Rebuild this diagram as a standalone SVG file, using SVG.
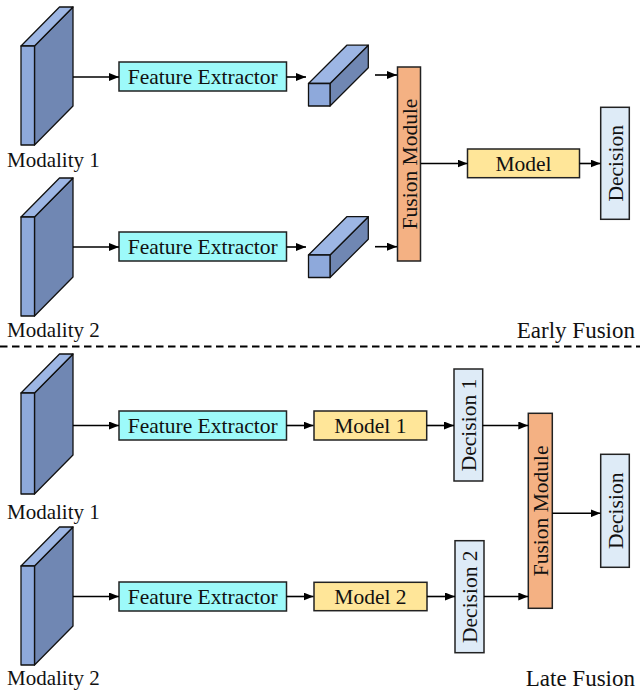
<svg xmlns="http://www.w3.org/2000/svg" width="640" height="693" viewBox="0 0 640 693" font-family="'Liberation Serif', 'Times New Roman', 'DejaVu Serif', serif">
<defs>
<marker id="ah" markerUnits="userSpaceOnUse" markerWidth="10" markerHeight="8" refX="10" refY="4" orient="auto">
<path d="M0,0 L10,4 L0,8 z" fill="#000"/>
</marker>
</defs>
<style>
text{font-family:'Liberation Serif','Times New Roman','DejaVu Serif',serif;fill:#111;}
.lbl{font-size:21.5px;text-anchor:middle;}
.mod{font-size:21px;}
.sec{font-size:23px;text-anchor:end;}
.box{stroke:#222;stroke-width:1.5;}
.fe{fill:#9DFAFA;}
.fus{fill:#F4B183;}
.mdl{fill:#FFE699;}
.dec{fill:#DEEBF7;}
.front{fill:#8EA9DB;stroke:#111;stroke-width:1.3;stroke-linejoin:round;}
.top{fill:#9DB6E4;stroke:#111;stroke-width:1.3;stroke-linejoin:round;}
.side{fill:#7087B3;stroke:#111;stroke-width:1.3;stroke-linejoin:round;}
.con{stroke:#000;stroke-width:1.6;fill:none;marker-end:url(#ah);}
</style>
<rect width="640" height="693" fill="#fff"/>

<!-- Early fusion -->
<g id="early-modality1">
<polygon class="side" points="34.5,46 73,7 73,106 34.5,145"/>
<polygon class="top" points="21,46 34.5,46 73,7 59.5,7"/>
<rect class="front" x="21" y="46" width="13.5" height="99"/>
<text class="mod" x="7" y="167" font-family="Liberation Serif">Modality 1</text>
</g>
<g id="early-modality2">
<polygon class="side" points="34.5,217 73,178 73,277 34.5,316"/>
<polygon class="top" points="21,217 34.5,217 73,178 59.5,178"/>
<rect class="front" x="21" y="217" width="13.5" height="99"/>
<text class="mod" x="7" y="337" font-family="Liberation Serif">Modality 2</text>
</g>
<g id="early-fe1">
<rect class="box fe" x="119" y="62" width="167.5" height="29"/>
<text class="lbl" x="202.7" y="83.5" font-family="Liberation Serif">Feature Extractor</text>
</g>
<g id="early-fe2">
<rect class="box fe" x="119" y="232" width="167.5" height="29"/>
<text class="lbl" x="202.7" y="253.5" font-family="Liberation Serif">Feature Extractor</text>
</g>
<g id="early-feat1">
<polygon class="side" points="330,83.5 368.3,45.2 368.3,67.7 330,106"/>
<polygon class="top" points="308.5,83.5 330,83.5 368.3,45.2 346.8,45.2"/>
<rect class="front" x="308.5" y="83.5" width="21.5" height="22.5"/>
</g>
<g id="early-feat2">
<polygon class="side" points="330,255 368.3,216.7 368.3,239.2 330,277.5"/>
<polygon class="top" points="308.5,255 330,255 368.3,216.7 346.8,216.7"/>
<rect class="front" x="308.5" y="255" width="21.5" height="22.5"/>
</g>
<g id="early-fusion">
<rect class="box fus" x="397.5" y="67" width="23" height="194"/>
<text class="lbl" transform="translate(409,164) rotate(-90)" x="0" y="7.5" font-family="Liberation Serif">Fusion Module</text>
</g>
<g id="early-model">
<rect class="box mdl" x="467.5" y="149" width="112" height="28.7"/>
<text class="lbl" x="523.5" y="170.5" font-family="Liberation Serif">Model</text>
</g>
<g id="early-decision">
<rect class="box dec" x="600.7" y="107.3" width="28.6" height="112"/>
<text class="lbl" transform="translate(615,163.3) rotate(-90)" x="0" y="7.5" font-family="Liberation Serif">Decision</text>
</g>
<text class="sec" x="635" y="337.5" font-family="Liberation Serif">Early Fusion</text>

<line x1="0" y1="346.5" x2="640" y2="346.5" stroke="#000" stroke-width="2" stroke-dasharray="7.5 4.5"/>

<!-- Late fusion -->
<g id="late-modality1">
<polygon class="side" points="34.5,393 73,354 73,455 34.5,494"/>
<polygon class="top" points="21,393 34.5,393 73,354 59.5,354"/>
<rect class="front" x="21" y="393" width="13.5" height="101"/>
<text class="mod" x="7" y="518.5" font-family="Liberation Serif">Modality 1</text>
</g>
<g id="late-modality2">
<polygon class="side" points="34.5,566 73,527 73,626 34.5,665"/>
<polygon class="top" points="21,566 34.5,566 73,527 59.5,527"/>
<rect class="front" x="21" y="566" width="13.5" height="99"/>
<text class="mod" x="7" y="684.5" font-family="Liberation Serif">Modality 2</text>
</g>
<g id="late-fe1">
<rect class="box fe" x="119" y="411" width="167.5" height="29"/>
<text class="lbl" x="202.7" y="432.5" font-family="Liberation Serif">Feature Extractor</text>
</g>
<g id="late-fe2">
<rect class="box fe" x="119" y="582" width="167.5" height="29"/>
<text class="lbl" x="202.7" y="603.5" font-family="Liberation Serif">Feature Extractor</text>
</g>
<g id="late-model1">
<rect class="box mdl" x="314" y="411" width="112.7" height="29"/>
<text class="lbl" x="370.3" y="432.5" font-family="Liberation Serif">Model 1</text>
</g>
<g id="late-model2">
<rect class="box mdl" x="314" y="582.3" width="113" height="28.4"/>
<text class="lbl" x="370.5" y="603.5" font-family="Liberation Serif">Model 2</text>
</g>
<g id="late-decision1">
<rect class="box dec" x="454" y="369" width="28.7" height="112"/>
<text class="lbl" transform="translate(468.3,425) rotate(-90)" x="0" y="7.5" font-family="Liberation Serif">Decision 1</text>
</g>
<g id="late-decision2">
<rect class="box dec" x="455" y="540.7" width="29" height="112"/>
<text class="lbl" transform="translate(469.5,596.7) rotate(-90)" x="0" y="7.5" font-family="Liberation Serif">Decision 2</text>
</g>
<g id="late-fusion">
<rect class="box fus" x="528.3" y="413.3" width="24" height="195"/>
<text class="lbl" transform="translate(540.3,510.8) rotate(-90)" x="0" y="7.5" font-family="Liberation Serif">Fusion Module</text>
</g>
<g id="late-decision">
<rect class="box dec" x="600.7" y="454.3" width="28.6" height="113"/>
<text class="lbl" transform="translate(615,510.8) rotate(-90)" x="0" y="7.5" font-family="Liberation Serif">Decision</text>
</g>
<text class="sec" x="635" y="686" font-family="Liberation Serif">Late Fusion</text>

<g id="connectors">
<line class="con" x1="73" y1="77" x2="119" y2="77"/>
<line class="con" x1="73" y1="247" x2="119" y2="247"/>
<line class="con" x1="286.5" y1="77" x2="306" y2="77"/>
<line class="con" x1="286.5" y1="247" x2="306" y2="247"/>
<line class="con" x1="375" y1="75" x2="397" y2="75"/>
<line class="con" x1="375" y1="246.7" x2="397" y2="246.7"/>
<line class="con" x1="420.7" y1="163.5" x2="467.5" y2="163.5"/>
<line class="con" x1="579.5" y1="163.5" x2="600.5" y2="163.5"/>

<line class="con" x1="73" y1="425.5" x2="119" y2="425.5"/>
<line class="con" x1="73" y1="596.5" x2="119" y2="596.5"/>
<line class="con" x1="286.5" y1="425.5" x2="313.5" y2="425.5"/>
<line class="con" x1="286.5" y1="596.5" x2="313.5" y2="596.5"/>
<line class="con" x1="426.7" y1="425.5" x2="454" y2="425.5"/>
<line class="con" x1="427" y1="596.5" x2="455" y2="596.5"/>
<line class="con" x1="482.7" y1="425.5" x2="528.3" y2="425.5"/>
<line class="con" x1="484" y1="596.5" x2="528.3" y2="596.5"/>
<line class="con" x1="552.3" y1="513.3" x2="600.5" y2="513.3"/>
</g>
</svg>
